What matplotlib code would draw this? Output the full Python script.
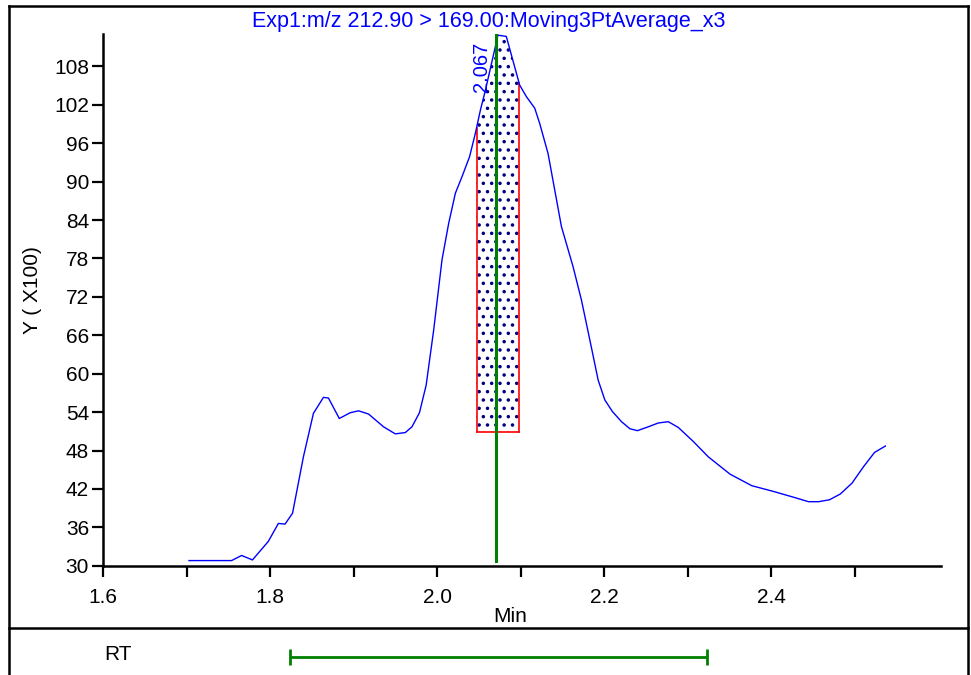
import numpy as np
import matplotlib
matplotlib.use('Agg')
import matplotlib.pyplot as plt
from matplotlib.lines import Line2D

# chromatogram trace (min, intensity x100)
rt = [1.703, 1.754, 1.766, 1.779, 1.798, 1.810, 1.818, 1.827, 1.840, 1.852,
      1.864, 1.870, 1.883, 1.896, 1.906, 1.918, 1.936, 1.950, 1.962, 1.970,
      1.979, 1.987, 1.996, 2.006, 2.014, 2.022, 2.030, 2.039, 2.046, 2.052,
      2.058, 2.073, 2.083, 2.099, 2.107, 2.117, 2.123, 2.133, 2.141, 2.149,
      2.163, 2.173, 2.183, 2.193, 2.201, 2.210, 2.221, 2.231, 2.240, 2.253,
      2.265, 2.277, 2.289, 2.307, 2.325, 2.351, 2.377, 2.403, 2.427, 2.445,
      2.457, 2.470, 2.483, 2.497, 2.511, 2.524, 2.537]
intensity = [30.8, 30.8, 31.6, 30.9, 33.8, 36.6, 36.5, 38.2, 47.0, 53.8,
             56.3, 56.2, 53.0, 53.9, 54.2, 53.7, 51.7, 50.6, 50.8, 51.7,
             53.9, 58.2, 66.8, 77.8, 83.5, 88.2, 90.8, 93.9, 97.6, 101.2,
             104.3, 112.9, 112.7, 105.1, 103.3, 101.5, 99.1, 94.4, 88.7, 83.0,
             76.7, 71.5, 65.3, 59.0, 55.9, 54.1, 52.5, 51.4, 51.1, 51.7,
             52.3, 52.5, 51.6, 49.4, 47.0, 44.3, 42.5, 41.6, 40.7, 40.0,
             40.0, 40.3, 41.2, 42.9, 45.5, 47.7, 48.7]

peak_label = "2.067"
peak_line_rt = 2.0705
area_start, area_end, area_base = 2.0474, 2.0982, 50.9
rt_window = [1.824, 2.323]

x_major = [1.6, 1.8, 2.0, 2.2, 2.4]
x_minor = [1.7, 1.9, 2.1, 2.3, 2.5]
y_ticks = [30, 36, 42, 48, 54, 60, 66, 72, 78, 84, 90, 96, 102, 108]

title = "Exp1:m/z 212.90 > 169.00:Moving3PtAverage_x3"

plt.rcParams['font.family'] = ['Liberation Sans', 'DejaVu Sans']
plt.rcParams['hatch.color'] = '#000080'
plt.rcParams['hatch.linewidth'] = 1.3

W, H = 971, 675
fig = plt.figure(figsize=(W / 100, H / 100), dpi=100)

# main axes placed in pixel terms
L, R, T, B = 103, 941, 34, 565.7
ax = fig.add_axes([L / W, 1 - B / H, (R - L) / W, (B - T) / H])
ax.set_xlim(1.6, 1.6 + (R - L) / 835)
ax.set_ylim(30, 30 + (B - T) / 6.4)

for s in ['top', 'right']:
    ax.spines[s].set_visible(False)
for s in ['left', 'bottom']:
    ax.spines[s].set_linewidth(1.8)

ax.set_xticks(x_major)
ax.set_xticklabels([f"{v:.1f}" for v in x_major])
ax.set_xticks(x_minor, minor=True)
ax.set_yticks(y_ticks)
ax.tick_params(axis='both', which='both', direction='out', length=8, width=1.6,
               labelsize=15, pad=2)
ax.tick_params(axis='x', pad=8)

# integrated area, hatched
xs = [area_start] + [x for x in rt if area_start < x < area_end] + [area_end]
ys = np.interp(xs, rt, intensity)
ax.fill_between(xs, area_base, ys, facecolor='white', hatch='..', edgecolor='none',
                linewidth=0, zorder=1)
ax.plot([area_start, area_start], [ys[0], area_base], color='red', lw=1.2, zorder=2)
ax.plot([area_end, area_end], [ys[-1], area_base], color='red', lw=1.2, zorder=2)
ax.plot([area_start, area_end], [area_base, area_base], color='red', lw=1.2, zorder=2)

ax.plot(rt, intensity, color='#0000ff', lw=1.0, zorder=3)
ax.plot([peak_line_rt, peak_line_rt], [30.8, max(intensity)], color='#008000', lw=2.2, zorder=4)
ax.text(peak_line_rt - 0.006, 104, peak_label, rotation=90, color='#0000ff',
        fontsize=14.5, ha='right', va='bottom', zorder=5)

ax.text((510 - L) / (R - L), (B - 617) / (B - T), "Min", transform=ax.transAxes,
        ha='center', va='center', fontsize=15)
fig.text(32 / W, 1 - 290 / H, "Y ( X100)", rotation=90, ha='center', va='center', fontsize=15)
fig.text(489 / W, 1 - 22 / H, title, color='#0000ff', ha='center', va='center', fontsize=15.5)

# outer frame and separator
lw_frame = 1.8
fig.add_artist(Line2D([9 / W, 9 / W], [0, 1 - 6 / H], color='black', lw=lw_frame))
fig.add_artist(Line2D([968 / W, 968 / W], [0, 1 - 6 / H], color='black', lw=lw_frame))
fig.add_artist(Line2D([9 / W, 968 / W], [1 - 6 / H, 1 - 6 / H], color='black', lw=lw_frame))
fig.add_artist(Line2D([9 / W, 968 / W], [1 - 627.7 / H, 1 - 627.7 / H], color='black', lw=lw_frame))

# RT window panel
ax2 = fig.add_axes([L / W, 0, (R - L) / W, 1 - 629 / H])
ax2.set_xlim(ax.get_xlim())
ax2.set_ylim(0, 1)
ax2.axis('off')
ax2.errorbar([(rt_window[0] + rt_window[1]) / 2], [1 - (657 - 629) / (675 - 629)],
             xerr=[(rt_window[1] - rt_window[0]) / 2], color='#008000', lw=2,
             capsize=6, capthick=2, fmt='none')
fig.text(118 / W, 1 - 655 / H, "RT", ha='center', va='center', fontsize=15)

fig.savefig('out.png', dpi=100)
